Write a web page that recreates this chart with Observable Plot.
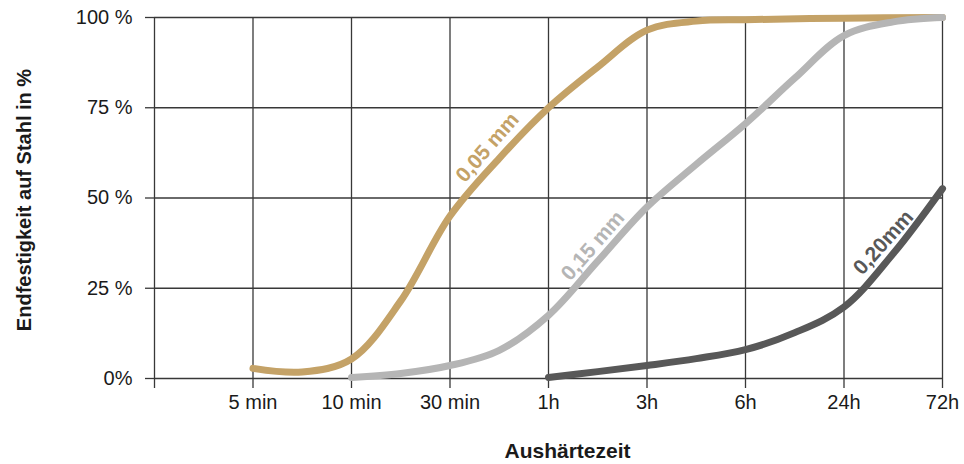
<!DOCTYPE html>
<html><head><meta charset="utf-8">
<script src="https://cdn.jsdelivr.net/npm/d3@7"></script>
<script src="https://cdn.jsdelivr.net/npm/@observablehq/plot@0.6"></script>
<style>body{margin:0;background:#fff}</style>
</head><body><div id="chart"></div>
<script>
// Categories (equally spaced positions on the time axis)
const xTicks = [0, 1, 2, 3, 4, 5, 6, 7, 8];
const xTickLabels = ["", "5 min", "10 min", "30 min", "1h", "3h", "6h", "24h", "72h"];
const yTicks = [0, 25, 50, 75, 100];
const yTickLabels = ["0%", "25 %", "50 %", "75 %", "100 %"];

const seriesNames = ["0,05 mm", "0,15 mm", "0,20mm"];
const seriesColors = ["#c4a267", "#b5b5b5", "#585858"];

// Series: position on time axis and strength in %
const pos005 = [1, 1.5, 2, 2.5, 3, 3.5, 4, 4.5, 5, 5.5, 6, 7, 8];
const val005 = [2.8, 1.8, 5.4, 21.5, 45, 61, 75, 86.3, 96.5, 99, 99.4, 99.8, 100];

const pos015 = [2, 2.5, 3, 3.5, 4, 4.5, 5, 5.5, 6, 6.5, 7, 7.5, 8];
const val015 = [0.3, 1.4, 3.6, 7.8, 17.5, 32.5, 47.5, 59.3, 70.6, 83.2, 95, 98.8, 100];

const pos020 = [4, 4.5, 5, 5.5, 6, 6.5, 7, 7.5, 8];
const val020 = [0.3, 1.9, 3.6, 5.5, 8, 12.7, 19.8, 34.6, 52.6];

const seriesPos = [pos005, pos015, pos020];
const seriesVal = [val005, val015, val020];

const rows = [];
seriesNames.forEach((name, s) => {
  seriesPos[s].forEach((p, i) => rows.push({series: name, x: p, y: seriesVal[s][i]}));
});

const labelAnchors = [
  {series: seriesNames[0], x: 3.38, y: 64, r: -49},
  {series: seriesNames[1], x: 4.45, y: 36.8, r: -49},
  {series: seriesNames[2], x: 7.40, y: 37.7, r: -48}
];

const font = "'Liberation Sans', Arial, Helvetica, sans-serif";
const gridColor = "#383838";

const chart = Plot.plot({
  width: 964,
  height: 464,
  marginLeft: 154,
  marginRight: 22,
  marginTop: 17,
  marginBottom: 86,
  style: {fontFamily: font, fontSize: "20px", color: "#1a1a1a", background: "#fff"},
  x: {domain: [0, 8], label: null},
  y: {domain: [0, 100], label: null},
  color: {domain: seriesNames, range: seriesColors},
  marks: [
    Plot.gridX(xTicks, {stroke: gridColor, strokeOpacity: 1, strokeWidth: 1.3}),
    Plot.gridY(yTicks, {stroke: gridColor, strokeOpacity: 1, strokeWidth: 1.3}),
    Plot.axisX({ticks: xTicks, tickFormat: i => xTickLabels[i], tickSize: 10, tickPadding: 6,
      stroke: gridColor, strokeWidth: 1.3, fill: "#1a1a1a", fontSize: 20, label: null}),
    Plot.axisY({ticks: yTicks, tickFormat: v => yTickLabels[yTicks.indexOf(v)], tickSize: 9, tickPadding: 13,
      stroke: gridColor, strokeWidth: 1.3, fill: "#1a1a1a", fontSize: 20, label: null}),
    Plot.line(rows, {x: "x", y: "y", z: "series", stroke: "series", strokeWidth: 7,
      curve: "catmull-rom", strokeLinecap: "round", strokeLinejoin: "round"}),
    Plot.text(labelAnchors, {x: "x", y: "y", text: "series", fill: "series", rotate: "r",
      fontWeight: "bold", fontSize: 21, textAnchor: "middle", lineAnchor: "middle"}),
    Plot.text(["Aushärtezeit"], {frameAnchor: "bottom", dx: 19, dy: 73, textAnchor: "middle",
      lineAnchor: "middle", fontWeight: "bold", fontSize: 21, fill: "#1a1a1a"}),
    Plot.text(["Endfestigkeit auf Stahl in %"], {frameAnchor: "left", dx: -130, dy: 2, rotate: -90,
      textAnchor: "middle", lineAnchor: "middle", fontWeight: "bold", fontSize: 20, fill: "#1a1a1a"})
  ]
});
document.getElementById("chart").appendChild(chart);
</script>
</body></html>
